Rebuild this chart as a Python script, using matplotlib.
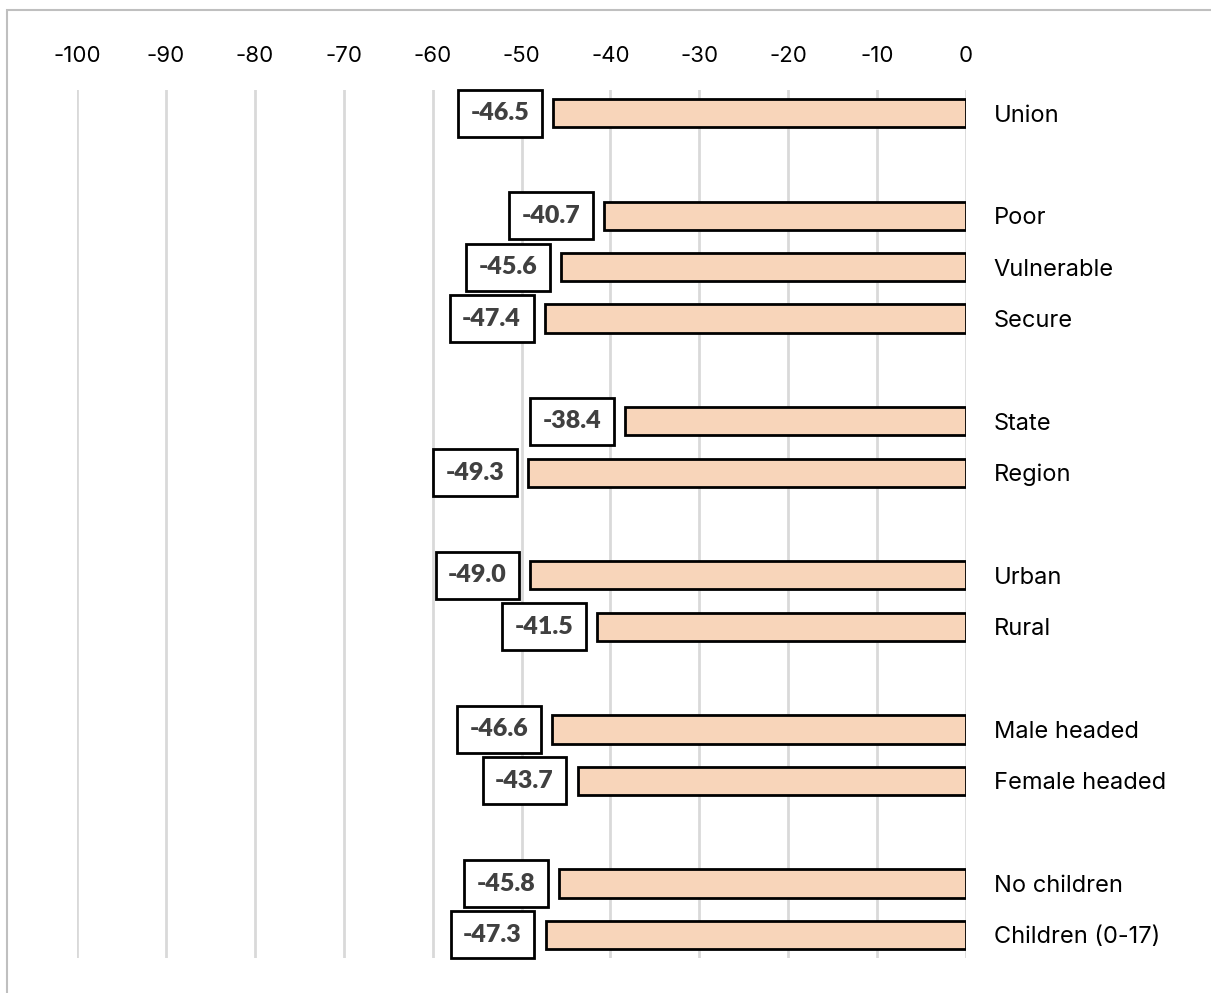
import matplotlib
import matplotlib.pyplot as plt
from matplotlib.patches import Rectangle

matplotlib.use('Agg')

# row labels, '' = spacer row between groups
categories = ['Union', '', 'Poor', 'Vulnerable', 'Secure', '', 'State', 'Region', '',
              'Urban', 'Rural', '', 'Male headed', 'Female headed', '', 'No children',
              'Children (0-17)']
values = [-46.5, None, -40.7, -45.6, -47.4, None, -38.4, -49.3, None,
          -49.0, -41.5, None, -46.6, -43.7, None, -45.8, -47.3]
x_ticks = [-100, -90, -80, -70, -60, -50, -40, -30, -20, -10, 0]

BAR_COLOR = '#F8D5BA'
GRID_COLOR = '#D9D9D9'


def main():
    fig = plt.figure(figsize=(12.11, 9.93), dpi=100)
    W, H = 1211, 993
    ax = fig.add_axes([77 / W, 1 - 958 / H, (966 - 77) / W, (958 - 90) / H])

    # outer frame (only top/left visible in the reference)
    fig.patches.append(Rectangle((7 / W, -0.1), 1.2, 1 - 10 / H + 0.1,
                                 transform=fig.transFigure, fill=False,
                                 edgecolor='#BFBFBF', linewidth=1.5))

    pos = [i for i, v in enumerate(values) if v is not None]
    vals = [v for v in values if v is not None]

    ax.barh(pos, vals, height=0.55, color=BAR_COLOR, edgecolor='black',
            linewidth=2, zorder=3)

    for p, v in zip(pos, vals):
        ax.annotate(f'{v:.1f}', xy=(v, p), xytext=(-17, 0), textcoords='offset points',
                    ha='right', va='center', fontsize=18, fontweight='heavy',
                    family='Lato', color='#404040', zorder=4,
                    bbox=dict(boxstyle='square,pad=0.5', fc='white', ec='black', lw=2))

    ax.set_xlim(-100, 0)
    ax.set_ylim(16.45, -0.45)
    ax.set_xticks(x_ticks)
    ax.set_xticklabels([str(t) for t in x_ticks], family='Inter', fontsize=16)
    ax.xaxis.tick_top()
    ax.tick_params(axis='x', length=0, pad=17)

    ax.set_yticks(pos)
    ax.set_yticklabels([categories[p] for p in pos], family='Inter', fontsize=17)
    ax.yaxis.tick_right()
    ax.tick_params(axis='y', length=0, pad=20)

    ax.grid(axis='x', color=GRID_COLOR, linewidth=2, zorder=0)
    ax.set_axisbelow(True)
    for s in ax.spines.values():
        s.set_visible(False)

    fig.savefig('out.png', dpi=100)


if __name__ == '__main__':
    main()
